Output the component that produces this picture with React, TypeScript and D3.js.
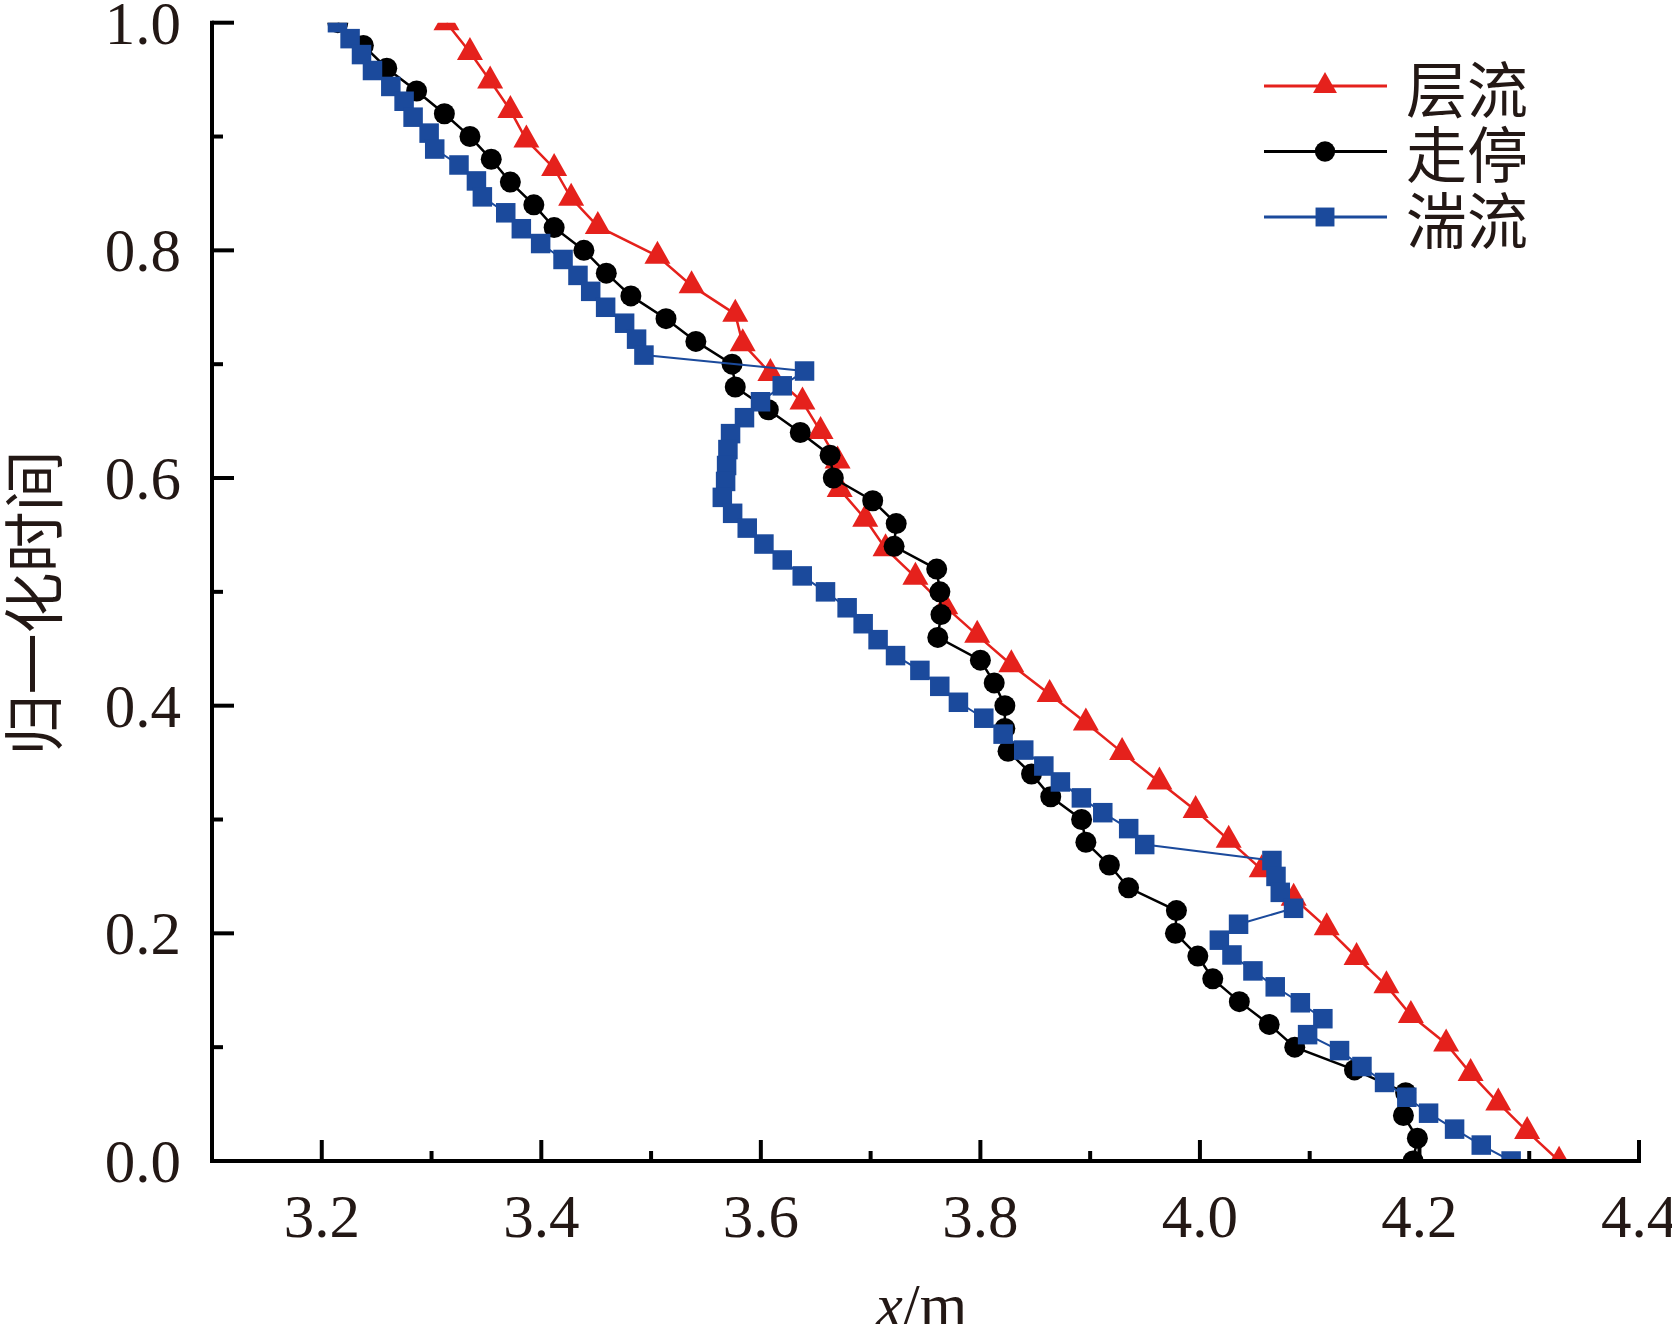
import React from "react";
import * as d3 from "d3";

// 层流 (laminar) — x position and normalised time
const laminarX = [
  3.3136, 3.335, 3.3534, 3.3718, 3.3864, 3.4117, 3.4272, 3.4515, 3.5058, 3.5369,
  3.5767, 3.5835, 3.6087, 3.6379, 3.6544, 3.6699, 3.6718, 3.6951, 3.7136, 3.7408,
  3.768, 3.7971, 3.8282, 3.8631, 3.8961, 3.9291, 3.9631, 3.9961, 4.0262, 4.0563,
  4.0854, 4.1155, 4.1427, 4.1699, 4.1922, 4.2243, 4.2466, 4.2718, 4.2981, 4.3272,
];
const laminarT = [
  1.0, 0.974, 0.949, 0.923, 0.897, 0.872, 0.846, 0.821, 0.795, 0.769,
  0.744, 0.718, 0.692, 0.667, 0.641, 0.615, 0.59, 0.564, 0.538, 0.513,
  0.487, 0.462, 0.436, 0.41, 0.385, 0.359, 0.333, 0.308, 0.282, 0.256,
  0.231, 0.205, 0.179, 0.154, 0.128, 0.103, 0.077, 0.051, 0.026, 0.0,
];

// 走停 (stop-and-go)
const stopGoX = [
  3.2146, 3.2379, 3.2592, 3.2864, 3.3117, 3.335, 3.3544, 3.3718, 3.3932, 3.4117,
  3.4388, 3.4592, 3.4816, 3.5136, 3.5408, 3.5738, 3.5767, 3.6068, 3.6359, 3.6631,
  3.666, 3.7019, 3.7233, 3.7214, 3.7602, 3.7631, 3.7641, 3.7612, 3.8, 3.8126,
  3.8223, 3.8223, 3.8252, 3.8466, 3.8641, 3.8922, 3.8961, 3.9175, 3.935, 3.9786,
  3.9777, 3.9981, 4.0117, 4.0359, 4.0631, 4.0864, 4.1408, 4.1874, 4.1854, 4.1981,
  4.1942,
];
const stopGoT = [
  1.0, 0.98, 0.96, 0.94, 0.92, 0.9, 0.88, 0.86, 0.84, 0.82,
  0.8, 0.78, 0.76, 0.74, 0.72, 0.7, 0.68, 0.66, 0.64, 0.62,
  0.6, 0.58, 0.56, 0.54, 0.52, 0.5, 0.48, 0.46, 0.44, 0.42,
  0.4, 0.38, 0.36, 0.34, 0.32, 0.3, 0.28, 0.26, 0.24, 0.22,
  0.2, 0.18, 0.16, 0.14, 0.12, 0.1, 0.08, 0.06, 0.04, 0.02,
  0.0,
];

// 湍流 (turbulent)
const turbulentX = [
  3.2143, 3.2258, 3.2362, 3.2462, 3.2629, 3.275, 3.2832, 3.2978, 3.3029, 3.325,
  3.3409, 3.3463, 3.3676, 3.3818, 3.3994, 3.4198, 3.4334, 3.445, 3.4586, 3.4759,
  3.4868, 3.4935, 3.6398, 3.6195, 3.5997, 3.5851, 3.5724, 3.57, 3.5688, 3.5679,
  3.5649, 3.5743, 3.5876, 3.6028, 3.6195, 3.6377, 3.6589, 3.6786, 3.6932, 3.7068,
  3.7227, 3.7449, 3.763, 3.78, 3.8031, 3.8207, 3.8395, 3.8578, 3.8729, 3.892,
  3.9115, 3.9351, 3.9497, 4.0656, 4.0693, 4.0732, 4.0853, 4.0352, 4.0177, 4.0292,
  4.0483, 4.0686, 4.0915, 4.112, 4.0981, 4.1272, 4.1476, 4.1682, 4.1885, 4.2083,
  4.232, 4.2563, 4.2835,
];
const turbulentT = [
  1.0, 0.986, 0.972, 0.958, 0.944, 0.931, 0.917, 0.903, 0.889, 0.875,
  0.861, 0.847, 0.833, 0.819, 0.806, 0.792, 0.778, 0.764, 0.75, 0.736,
  0.722, 0.708, 0.694, 0.681, 0.667, 0.653, 0.639, 0.625, 0.611, 0.597,
  0.583, 0.569, 0.556, 0.542, 0.528, 0.514, 0.5, 0.486, 0.472, 0.458,
  0.444, 0.431, 0.417, 0.403, 0.389, 0.375, 0.361, 0.347, 0.333, 0.319,
  0.306, 0.292, 0.278, 0.264, 0.25, 0.236, 0.222, 0.208, 0.194, 0.181,
  0.167, 0.153, 0.139, 0.125, 0.111, 0.097, 0.083, 0.069, 0.056, 0.042,
  0.028, 0.014, 0.0,
];

const xMajor = [3.2, 3.4, 3.6, 3.8, 4.0, 4.2, 4.4];
const xMinor = [3.3, 3.5, 3.7, 3.9, 4.1, 4.3];
const yMajor = [0.0, 0.2, 0.4, 0.6, 0.8, 1.0];
const yMinor = [0.1, 0.3, 0.5, 0.7, 0.9];

const legendNames = ["层流", "走停", "湍流"];

const W = 1672;
const H = 1324;
const left = 212;
const right = 1639;
const top = 22.7;
const bottom = 1161;

const RED = "#e5211c";
const BLACK = "#000000";
const BLUE = "#1b4a9c";
const INK = "#231815";
const numFont = "'Liberation Serif', 'Times New Roman', serif";
const cjkFont = "'Noto Sans CJK SC', 'Noto Sans CJK JP', sans-serif";

type Kind = "tri" | "circle" | "square";

const Marker = ({ kind, x, y, color, s = 1 }: { kind: Kind; x: number; y: number; color: string; s?: number }) => {
  if (kind === "tri") {
    const w = 13 * s;
    const h = 23 * s;
    return (
      <path
        d={`M${x},${y - (2 * h) / 3}L${x + w},${y + h / 3}L${x - w},${y + h / 3}Z`}
        fill={color}
      />
    );
  }
  if (kind === "circle") return <circle cx={x} cy={y} r={10.5 * s} fill={color} />;
  const a = 19.5 * s;
  return <rect x={x - a / 2} y={y - a / 2} width={a} height={a} fill={color} />;
};

export default function App() {
  const x = d3.scaleLinear().domain([3.1, 4.4]).range([left, right]);
  const y = d3.scaleLinear().domain([0, 1]).range([bottom, top]);

  const series = [
    { name: legendNames[0], xs: laminarX, ts: laminarT, color: RED, kind: "tri" as Kind, width: 2.5 },
    { name: legendNames[1], xs: stopGoX, ts: stopGoT, color: BLACK, kind: "circle" as Kind, width: 2.5 },
    { name: legendNames[2], xs: turbulentX, ts: turbulentT, color: BLUE, kind: "square" as Kind, width: 2 },
  ];

  const line = d3
    .line<[number, number]>()
    .x((d) => x(d[0]))
    .y((d) => y(d[1]));

  return (
    <svg
      width={W}
      height={H}
      style={{ position: "absolute", left: 0, top: 0, background: "#fff" }}
    >
      <defs>
        <clipPath id="plotClip">
          <rect x={left} y={top} width={right - left} height={bottom - top} />
        </clipPath>
      </defs>

      <g clipPath="url(#plotClip)">
        {series.map((s) => {
          const pts = s.xs.map((v, i) => [v, s.ts[i]] as [number, number]);
          return (
            <g key={s.name}>
              <path d={line(pts) || ""} fill="none" stroke={s.color} strokeWidth={s.width} />
              {pts.map((p, i) => (
                <Marker key={i} kind={s.kind} x={x(p[0])} y={y(p[1])} color={s.color} />
              ))}
            </g>
          );
        })}
      </g>

      {/* axes */}
      <g stroke={BLACK} strokeWidth={4} fill="none">
        <line x1={left} x2={right + 2} y1={bottom} y2={bottom} />
        <line x1={left} x2={left} y1={bottom + 2} y2={top - 2} />
        {xMajor.map((v) => (
          <line key={"xM" + v} x1={x(v)} x2={x(v)} y1={bottom} y2={bottom - 21} />
        ))}
        {xMinor.map((v) => (
          <line key={"xm" + v} x1={x(v)} x2={x(v)} y1={bottom} y2={bottom - 10} />
        ))}
        {yMajor.map((v) => (
          <line key={"yM" + v} x1={left} x2={left + 22} y1={y(v)} y2={y(v)} />
        ))}
        {yMinor.map((v) => (
          <line key={"ym" + v} x1={left} x2={left + 11} y1={y(v)} y2={y(v)} />
        ))}
      </g>

      <g fill={INK} fontFamily={numFont} fontSize={61}>
        {xMajor.map((v) => (
          <text key={"xl" + v} x={x(v)} y={bottom + 76} textAnchor="middle">
            {v.toFixed(1)}
          </text>
        ))}
        {yMajor.map((v) => (
          <text key={"yl" + v} x={181} y={y(v) + 21} textAnchor="end">
            {v.toFixed(1)}
          </text>
        ))}
        <text x={(left + right) / 2 - 4} y={H + 2} textAnchor="middle">
          <tspan fontStyle="italic">x</tspan>/m
        </text>
      </g>

      <text
        transform={`translate(30, 603) rotate(-90)`}
        textAnchor="middle"
        dominantBaseline="central"
        fontFamily={cjkFont}
        fontSize={61}
        fill={INK}
      >
        归一化时间
      </text>

      {/* legend */}
      {series.map((s, i) => {
        const ly = 86 + i * 65.5;
        return (
          <g key={"lg" + s.name}>
            <line x1={1264} x2={1387} y1={ly} y2={ly} stroke={s.color} strokeWidth={3} />
            <Marker kind={s.kind} x={1325} y={ly} color={s.color} s={s.kind === "tri" ? 0.92 : 0.97} />
            <text
              x={1406}
              y={ly}
              dominantBaseline="central"
              fontFamily={cjkFont}
              fontSize={61}
              fill={INK}
            >
              {s.name}
            </text>
          </g>
        );
      })}
    </svg>
  );
}
